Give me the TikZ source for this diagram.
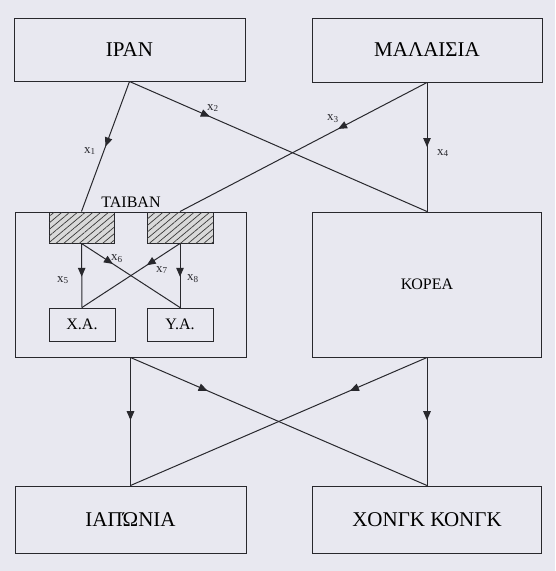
\documentclass[tikz,border=0pt]{standalone}
\usepackage{fontspec}
\setmainfont{Liberation Serif}
\usetikzlibrary{arrows.meta,decorations.markings,patterns.meta}
\definecolor{paper}{RGB}{232,232,240}
\definecolor{ink}{RGB}{40,40,45}
\tikzset{
  box/.style={draw=ink, line width=1pt, inner sep=0pt, minimum width=231pt},
  bigtxt/.style={font=\fontsize{21}{24}\selectfont},
  midtxt/.style={font=\fontsize{16}{19}\selectfont},
  smallbox/.style={draw=ink, line width=1pt, inner sep=0pt, minimum width=66pt},
  hatched/.style={smallbox, minimum height=31pt, fill=gray!30,
     postaction={pattern={Lines[angle=40,distance=5pt,line width=0.7pt]}, pattern color=gray!45!black}},
  lbl/.style={font=\fontsize{13}{15}\selectfont, inner sep=0pt, text=ink},
  conn/.style={draw=ink, line width=1pt},
  flow/.style={conn, postaction={decorate}, decoration={markings,
     mark=at position #1 with {\arrow{Triangle[length=9pt,width=7.5pt]}}}}
}
\begin{document}
\begin{tikzpicture}[x=1pt,y=-1pt]
\fill[paper] (0,0) rectangle (555,571);
\useasboundingbox (0,0) rectangle (555,571);
% main boxes
\node[box, bigtxt, minimum height=63pt] (iran) at (129.5,49.5) {ΙΡΑΝ};
\node[box, bigtxt, minimum width=230pt, minimum height=64pt] (mal) at (427,50) {ΜΑΛΑΙΣΙΑ};
\node[box, minimum height=145pt] (taiw) at (130.5,284.5) {};
\node[box, midtxt, minimum width=229pt, minimum height=145pt] (kor) at (427,284.5) {ΚΟΡΕΑ};
\node[box, bigtxt, minimum height=67pt] (jap) at (130.5,519.5) {ΙΑΠΏΝΙΑ};
\node[box, bigtxt, minimum width=229pt, minimum height=67pt] (hk) at (427,519.5) {ΧΟΝΓΚ ΚΟΝΓΚ};
\node[midtxt, anchor=south, inner sep=0pt] (twlabel) at (131,208) {ΤΑΙΒΑΝ};
% inner boxes
\node[hatched, minimum width=65pt] (s1) at (81.5,227.5) {};
\node[hatched] (s2) at (180,227.5) {};
\node[smallbox, midtxt, minimum height=33pt] (xa) at (82,324.5) {Χ.Α.};
\node[smallbox, midtxt, minimum height=33pt] (ya) at (180,324.5) {Υ.Α.};
% upper connectors
\draw[flow=0.5] (iran.south) -- (s1.north);
\draw[flow=0.27] (iran.south) -- (kor.north);
\draw[flow=0.36] (mal.south) -- (s2.north);
\draw[flow=0.5] (mal.south) -- (kor.north);
% inner connectors
\draw[flow=0.52] (s1.south) -- (xa.north);
\draw[flow=0.32] (s1.south) -- (ya.north);
\draw[flow=0.34] (s2.south) -- (xa.north);
\draw[flow=0.52] (s2.south) -- (ya.north);
% lower connectors
\draw[flow=0.49] (taiw.south) -- (jap.north);
\draw[flow=0.26] (taiw.south) -- (hk.north);
\draw[flow=0.26] (kor.south) -- (jap.north);
\draw[flow=0.49] (kor.south) -- (hk.north);
% labels
\node[lbl] (l1) at (90,151) {x\textsubscript{1}};
\node[lbl] (l2) at (213,108) {x\textsubscript{2}};
\node[lbl] (l3) at (333,119) {x\textsubscript{3}};
\node[lbl] (l4) at (443,153) {x\textsubscript{4}};
\node[lbl] (l5) at (63,280) {x\textsubscript{5}};
\node[lbl] (l6) at (117,259) {x\textsubscript{6}};
\node[lbl] (l7) at (162,270) {x\textsubscript{7}};
\node[lbl] (l8) at (193,279) {x\textsubscript{8}};
\end{tikzpicture}
\end{document}
